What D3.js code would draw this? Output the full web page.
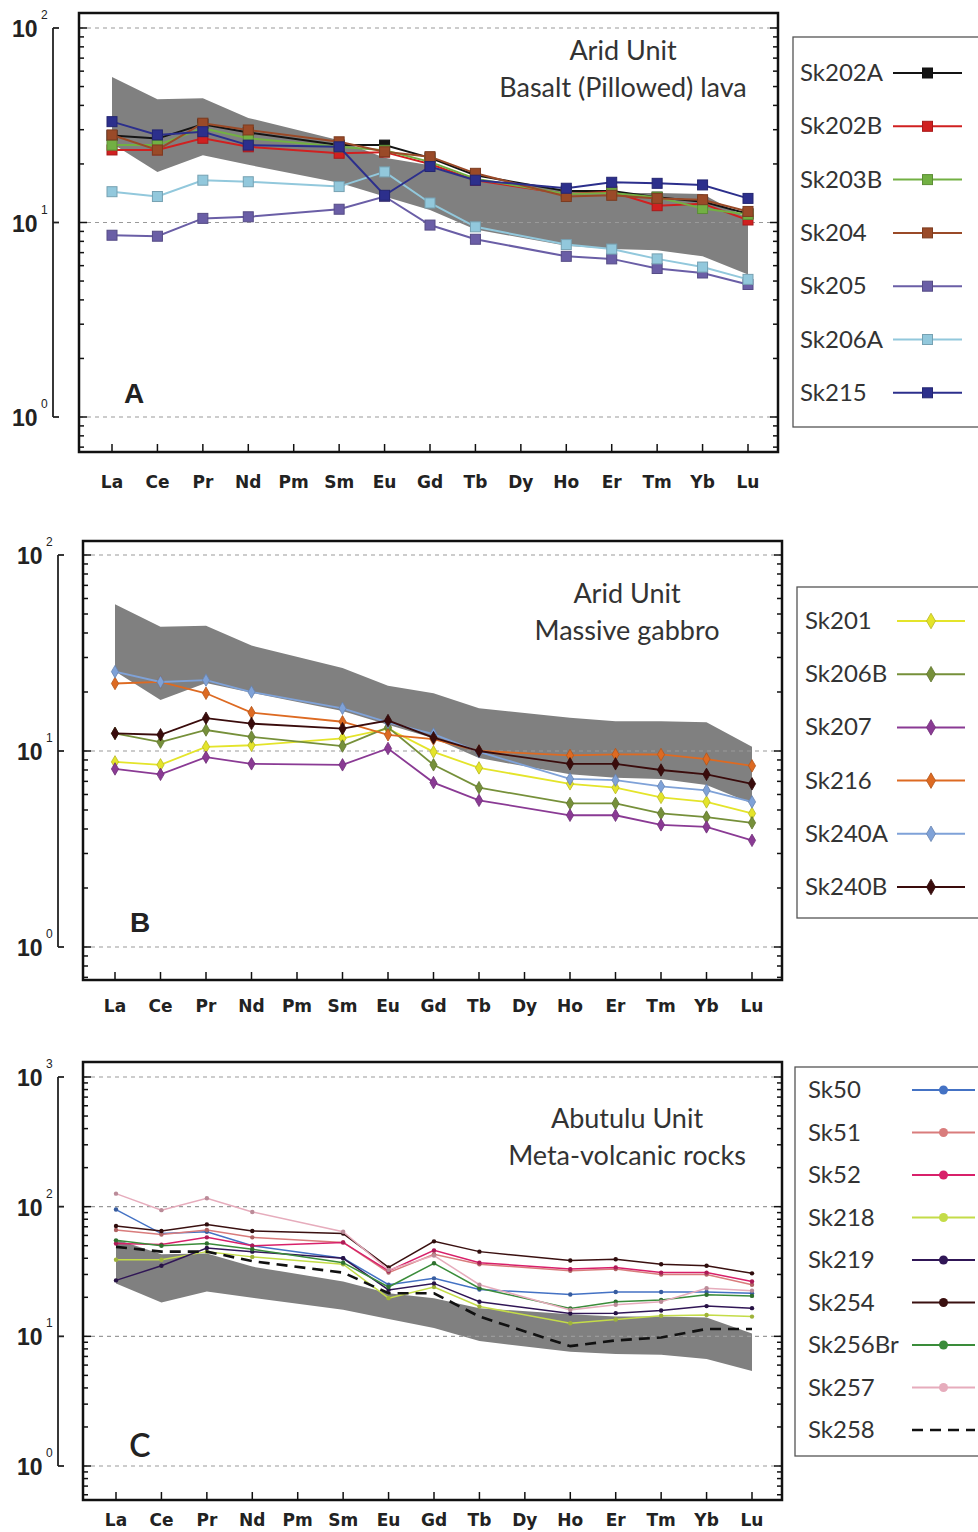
<!DOCTYPE html>
<html>
<head>
<meta charset="utf-8">
<script src="https://cdn.jsdelivr.net/npm/d3@7/dist/d3.min.js"></script>
<style>
    body { margin: 0; background: #fff; }
    svg { display: block; }
</style>
</head>
<body>
<svg></svg>
<script>

var width = 978;
var height = 1532;

// REE order (Pm and Dy are not measured)
var elements = ["La", "Ce", "Pr", "Nd", "Pm", "Sm", "Eu", "Gd", "Tb", "Dy", "Ho", "Er", "Tm", "Yb", "Lu"];

// grey reference field, same in all three panels
var bandUpper = [56, 43, 43.5, 34.5, null, 26.5, 21.5, 19.7, 16.5, null, 14.8, 14.2, 14.2, 14.0, 10.5];
var bandLower = [25.5, 18.2, 22.2, 19.8, null, 16.0, 13.6, 11.6, 9.2, null, 7.6, 7.3, 7.2, 6.7, 5.4];

// A - Arid Unit, basalt (pillowed) lava
var namesA = ["Sk202A", "Sk202B", "Sk203B", "Sk204", "Sk205", "Sk206A", "Sk215"];
var colorsA = ["#141414", "#d02020", "#72b043", "#9a4a28", "#6a5ea6", "#92c8dc", "#2c2f8c"];
var sk202A = [28, 27, 32, 29, null, 25, 25, 21.5, 17.5, null, 14.5, 14.5, 13.5, 12.8, 11.1];
var sk202B = [23.6, 23.6, 27.1, 24.5, null, 22.7, 23, 20, 16.5, null, 14, 14.4, 12.2, 12.5, 10.3];
var sk203B = [25, 25, 30.5, 27.1, null, 24.5, 23.5, 20.5, 16.8, null, 14, 14.2, 13.5, 11.8, 11];
var sk204 = [28.2, 23.6, 32.4, 29.9, null, 26, 23.1, 21.8, 17.9, null, 13.6, 13.8, 13.3, 13.1, 11.4];
var sk205 = [8.6, 8.5, 10.5, 10.7, null, 11.7, 13.6, 9.7, 8.2, null, 6.7, 6.5, 5.8, 5.5, 4.8];
var sk206A = [14.4, 13.6, 16.5, 16.2, null, 15.3, 18.2, 12.6, 9.5, null, 7.7, 7.3, 6.5, 5.9, 5.1];
var sk215 = [33, 28.2, 29.3, 25, null, 24.5, 13.8, 19.4, 16.5, null, 15, 16.1, 15.9, 15.6, 13.3];

// B - Arid Unit, massive gabbro
var namesB = ["Sk201", "Sk206B", "Sk207", "Sk216", "Sk240A", "Sk240B"];
var colorsB = ["#e4e42a", "#76903a", "#8a3a94", "#dd6a22", "#7fa2d8", "#3a0c0c"];
var sk201 = [8.8, 8.5, 10.5, 10.7, null, 11.6, 13, 9.9, 8.2, null, 6.8, 6.5, 5.8, 5.5, 4.8];
var sk206B = [12.3, 11.1, 12.8, 11.8, null, 10.6, 13.2, 8.5, 6.5, null, 5.4, 5.4, 4.8, 4.6, 4.3];
var sk207 = [8.1, 7.6, 9.3, 8.6, null, 8.5, 10.3, 6.9, 5.6, null, 4.7, 4.7, 4.2, 4.1, 3.5];
var sk216 = [22.1, 22.5, 19.7, 15.7, null, 14.1, 12.1, 11.5, 10, null, 9.5, 9.6, 9.6, 9.1, 8.4];
var sk240A = [25.4, 22.5, 23, 20, null, 16.5, 14, 12.2, 9.9, null, 7.2, 7.1, 6.6, 6.3, 5.5];
var sk240B = [12.3, 12.1, 14.7, 13.8, null, 13, 14.3, 11.7, 10, null, 8.6, 8.6, 8, 7.6, 6.8];

// C - Abutulu Unit, meta-volcanic rocks
var namesC = ["Sk50", "Sk51", "Sk52", "Sk218", "Sk219", "Sk254", "Sk256Br", "Sk257", "Sk258"];
var colorsC = ["#4472c4", "#d97c7c", "#d8206a", "#c4dc48", "#301656", "#3a1010", "#3a8c3a", "#e6acbc", "#111111"];
var sk50 = [95, 62, 64, 50, null, 40, 25, 28, 23, null, 21, 22, 22, 22, 21.5];
var sk51 = [66, 61, 66, 58, null, 53, 31, 43, 36, null, 32, 33, 30, 30, 25];
var sk52 = [52, 51, 58, 50, null, 53, 32, 46, 37, null, 33, 34, 31, 31, 26.5];
var sk218 = [39, 39, 45, 41, null, 36, 19.7, 24, 17, null, 12.6, 13.5, 14.4, 14.6, 14.2];
var sk219 = [27, 35, 48, 45, null, 40, 22.8, 25.6, 18.5, null, 15, 15.1, 15.8, 17.1, 16.5];
var sk254 = [71, 65, 73, 65, null, 62, 34, 54, 45, null, 38.4, 39.3, 36, 35, 30.6];
var sk256Br = [55, 50, 52, 47, null, 37, 24, 36.6, 23.5, null, 16.4, 18.5, 19.1, 20.9, 20.5];
var sk257 = [126, 94, 116, 91, null, 64, 32.5, 42, 25, null, 16, 17.5, 18.5, 23.5, 22.5];
var sk258 = [49, 45, 45, 38, null, 31, 21.5, 21.5, 14.2, null, 8.4, 9.3, 9.8, 11.4, 11.4];

//..................................................................................//

var titleFont = "Lato, 'Open Sans', sans-serif";

var svg = d3.select('svg')
    .attr('width', width)
    .attr('height', height);

var panels = [
    {
        letter: "A", letterPos: [134, 403], letterFont: "bold 28px 'Liberation Sans', Arial, sans-serif",
        title: ["Arid Unit", "Basalt (Pillowed) lava"], titleX: 623, titleY: [60, 97],
        frame: [79, 778, 13, 452], xRange: [112, 748],
        decades: [1, 100], decadeY: [417, 28],
        labelX: 12, axisX: 53, catY: 488,
        names: namesA, colors: colorsA,
        values: [sk202A, sk202B, sk203B, sk204, sk205, sk206A, sk215],
        marker: "square", lineWidth: 2,
        legend: { x: 793, y0: 37, y1: 427, first: 73, step: 53.3, text: 800, l0: 893, l1: 962 }
    },
    {
        letter: "B", letterPos: [140, 932], letterFont: "bold 28px 'Liberation Sans', Arial, sans-serif",
        title: ["Arid Unit", "Massive gabbro"], titleX: 627, titleY: [603, 640],
        frame: [83, 782, 541, 980], xRange: [115, 752],
        decades: [1, 100], decadeY: [947, 555],
        labelX: 17, axisX: 58, catY: 1012,
        names: namesB, colors: colorsB,
        values: [sk201, sk206B, sk207, sk216, sk240A, sk240B],
        marker: "diamond", lineWidth: 1.8,
        legend: { x: 797, y0: 587, y1: 918, first: 621, step: 53.2, text: 805, l0: 897, l1: 965 }
    },
    {
        letter: "C", letterPos: [140, 1457], letterFont: "600 32px " + titleFont,
        title: ["Abutulu Unit", "Meta-volcanic rocks"], titleX: 627, titleY: [1128, 1165],
        frame: [83, 782, 1062, 1500], xRange: [116, 752],
        decades: [1, 1000], decadeY: [1466, 1077],
        labelX: 17, axisX: 58, catY: 1526,
        names: namesC, colors: colorsC,
        values: [sk50, sk51, sk52, sk218, sk219, sk254, sk256Br, sk257, sk258],
        marker: "circle", lineWidth: 1.5, dashed: "Sk258",
        legend: { x: 795, y0: 1067, y1: 1456, first: 1090, step: 42.5, text: 808, l0: 912, l1: 975 }
    }
];

var drawMarker = function (g, type, x, y, color, big) {
    var edge = d3.color(color).darker(0.6);
    if (type === "square") {
        var s = 10;
        g.append('rect')
            .attr('x', x - s / 2).attr('y', y - s / 2)
            .attr('width', s).attr('height', s)
            .attr('fill', color).attr('stroke', edge).attr('stroke-width', 1);
    } else if (type === "diamond") {
        g.append('path')
            .attr('d', d3.symbol().type(d3.symbolDiamond).size(big ? 70 : 45)())
            .attr('transform', 'translate(' + x + ',' + y + ')')
            .attr('fill', color).attr('stroke', edge).attr('stroke-width', 0.8);
    } else {
        g.append('circle')
            .attr('cx', x).attr('cy', y).attr('r', big ? 4.5 : 2.2)
            .attr('fill', big ? color : edge);
    }
};

panels.forEach(function (p) {

    var g = svg.append('g');
    var f = p.frame;

    var x = d3.scalePoint()
        .domain(elements)
        .range(p.xRange);

    var y = d3.scaleLog()
        .domain(p.decades)
        .range(p.decadeY);

    // log ticks inside the frame
    var allTicks = [];
    for (var e = -1; e <= 3; e++) {
        for (var m = 1; m <= 9; m++) {
            var v = m * Math.pow(10, e);
            if (y(v) <= f[3] - 2 && y(v) >= f[2] + 2) allTicks.push(v);
        }
    }
    var majors = allTicks.filter(function (v) { return Math.abs(Math.log10(v) % 1) < 1e-9; })
        .filter(function (v) { return v >= p.decades[0] && v <= p.decades[1]; });

    // grey reference field
    var bandData = elements.map(function (el, i) {
        return { el: el, lo: bandLower[i], hi: bandUpper[i] };
    }).filter(function (d) { return d.lo !== null; });

    var area = d3.area()
        .x(function (d) { return x(d.el); })
        .y0(function (d) { return y(d.lo); })
        .y1(function (d) { return y(d.hi); });

    g.append('path')
        .datum(bandData)
        .attr('d', area)
        .attr('fill', '#808080');

    // dashed decade lines
    g.selectAll('line.grid')
        .data(majors)
        .enter()
        .append('line')
        .attr('x1', f[0]).attr('x2', f[1])
        .attr('y1', function (d) { return y(d); })
        .attr('y2', function (d) { return y(d); })
        .attr('stroke', '#9a9a9a')
        .attr('stroke-width', 1.2)
        .attr('stroke-dasharray', '4,4');

    // samples
    var line = d3.line()
        .x(function (d) { return x(d.el); })
        .y(function (d) { return y(d.v); });

    p.values.forEach(function (vals, k) {
        var pts = elements.map(function (el, i) { return { el: el, v: vals[i] }; })
            .filter(function (d) { return d.v !== null; });
        var isDash = p.dashed === p.names[k];
        g.append('path')
            .datum(pts)
            .attr('d', line)
            .attr('fill', 'none')
            .attr('stroke', p.colors[k])
            .attr('stroke-width', isDash ? 2.6 : p.lineWidth)
            .attr('stroke-dasharray', isDash ? '11,7' : null);
        if (!isDash) {
            pts.forEach(function (d) {
                drawMarker(g, p.marker, x(d.el), y(d.v), p.colors[k], false);
            });
        }
    });

    // frame
    g.append('rect')
        .attr('x', f[0]).attr('y', f[2])
        .attr('width', f[1] - f[0]).attr('height', f[3] - f[2])
        .attr('fill', 'none').attr('stroke', '#111').attr('stroke-width', 2.5);

    // ticks on left and right edges, pointing inside
    allTicks.forEach(function (v) {
        var len = majors.indexOf(v) >= 0 ? 8 : 5;
        g.append('line').attr('x1', f[0]).attr('x2', f[0] + len)
            .attr('y1', y(v)).attr('y2', y(v)).attr('stroke', '#111').attr('stroke-width', 1.5);
        g.append('line').attr('x1', f[1]).attr('x2', f[1] - len)
            .attr('y1', y(v)).attr('y2', y(v)).attr('stroke', '#111').attr('stroke-width', 1.5);
    });

    // category ticks and labels
    g.selectAll('line.xt')
        .data(elements)
        .enter()
        .append('line')
        .attr('x1', function (d) { return x(d); })
        .attr('x2', function (d) { return x(d); })
        .attr('y1', f[3]).attr('y2', f[3] - 8)
        .attr('stroke', '#111').attr('stroke-width', 1.5);

    g.selectAll('text.xl')
        .data(elements)
        .enter()
        .append('text')
        .attr('x', function (d) { return x(d); })
        .attr('y', p.catY)
        .attr('text-anchor', 'middle')
        .style('font', "bold 17px 'DejaVu Sans', Verdana, sans-serif")
        .attr('fill', '#222')
        .text(function (d) { return d; });

    // bracket axis with 10^n labels
    g.append('line')
        .attr('x1', p.axisX).attr('x2', p.axisX)
        .attr('y1', y(p.decades[0])).attr('y2', y(p.decades[1]))
        .attr('stroke', '#222').attr('stroke-width', 1.8);

    majors.forEach(function (v) {
        var yy = y(v);
        g.append('line').attr('x1', p.axisX).attr('x2', p.axisX + 6)
            .attr('y1', yy).attr('y2', yy).attr('stroke', '#222').attr('stroke-width', 1.8);
        g.append('text')
            .attr('x', p.labelX).attr('y', yy + 9)
            .style('font', "bold 23px 'Liberation Sans', Arial, sans-serif")
            .attr('fill', '#222')
            .text('10');
        g.append('text')
            .attr('x', p.labelX + 29).attr('y', yy - 9)
            .style('font', "12px 'Liberation Sans', Arial, sans-serif")
            .attr('fill', '#222')
            .text(Math.round(Math.log10(v)));
    });

    // title inside plot
    p.title.forEach(function (t, i) {
        g.append('text')
            .attr('x', p.titleX).attr('y', p.titleY[i])
            .attr('text-anchor', 'middle')
            .style('font', "27px " + titleFont)
            .attr('fill', '#333')
            .text(t);
    });

    g.append('text')
        .attr('x', p.letterPos[0]).attr('y', p.letterPos[1])
        .attr('text-anchor', 'middle')
        .style('font', p.letterFont)
        .attr('fill', '#222')
        .text(p.letter);

    // legend box
    var L = p.legend;
    g.append('rect')
        .attr('x', L.x).attr('y', L.y0)
        .attr('width', width - L.x + 20).attr('height', L.y1 - L.y0)
        .attr('fill', '#fff').attr('stroke', '#555').attr('stroke-width', 1.3);

    p.names.forEach(function (name, k) {
        var yy = L.first + k * L.step;
        var isDash = p.dashed === name;
        g.append('text')
            .attr('x', L.text).attr('y', yy + 8)
            .style('font', "24px " + titleFont)
            .attr('fill', '#333')
            .text(name);
        g.append('line')
            .attr('x1', L.l0).attr('x2', L.l1)
            .attr('y1', yy).attr('y2', yy)
            .attr('stroke', p.colors[k])
            .attr('stroke-width', isDash ? 2.6 : 2)
            .attr('stroke-dasharray', isDash ? '11,7' : null);
        if (!isDash) drawMarker(g, p.marker, (L.l0 + L.l1) / 2, yy, p.colors[k], true);
    });
});

</script>
</body>
</html>
